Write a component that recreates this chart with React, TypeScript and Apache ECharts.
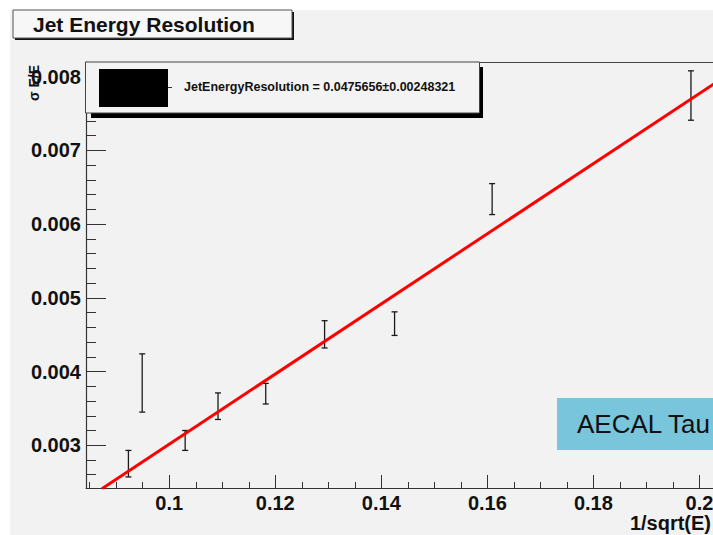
import React, { useEffect, useRef } from "react";
import * as echarts from "echarts";

// ---- data ----
const pointX = [0.0923, 0.0949, 0.103, 0.1092, 0.1182, 0.1293, 0.1425, 0.1609, 0.1984];
const errLow = [0.00257, 0.00345, 0.00293, 0.00335, 0.00356, 0.00432, 0.00449, 0.00613, 0.00741];
const errHigh = [0.00293, 0.00424, 0.0032, 0.00371, 0.00384, 0.00469, 0.00481, 0.00655, 0.00808];

const fitX = [0.0873, 0.2035];
const fitY = [0.00241, 0.00794];

const xMajorTicks = [0.1, 0.12, 0.14, 0.16, 0.18, 0.2];
const xMinorTicks = [
  0.085, 0.09, 0.095, 0.105, 0.11, 0.115, 0.125, 0.13, 0.135, 0.145, 0.15, 0.155,
  0.165, 0.17, 0.175, 0.185, 0.19, 0.195,
];
const yMajorTicks = [0.003, 0.004, 0.005, 0.006, 0.007, 0.008];
const yMinorTicks = [
  0.0026, 0.0028, 0.0032, 0.0034, 0.0036, 0.0038, 0.0042, 0.0044, 0.0046, 0.0048,
  0.0052, 0.0054, 0.0056, 0.0058, 0.0062, 0.0064, 0.0066, 0.0068, 0.0072, 0.0074,
  0.0076, 0.0078,
];

const xMin = 0.0843;
const xMax = 0.2035;
const yMin = 0.00242;
const yMax = 0.0082;

const titleText = "Jet Energy Resolution";
const fitLabel = "JetEnergyResolution = 0.0475656\u00b10.00248321";
const xAxisTitle = "1/sqrt(E)";
const yAxisTitle = "\u03c3 E/E";
const noteText = "AECAL Tau";

const FONT = '"Liberation Sans", Arial, Helvetica, sans-serif';

export default function App() {
  const ref = useRef<HTMLDivElement>(null);

  useEffect(() => {
    if (!ref.current) return;
    const chart = echarts.init(ref.current, undefined, { renderer: "svg" });

    const axisColor = "#333";
    const tickStyle = { color: axisColor, width: 1 };

    const option: any = {
      animation: false,
      backgroundColor: "transparent",
      grid: { left: 86, top: 62, right: 22, bottom: 47 },
      xAxis: [
        {
          type: "value",
          min: xMin,
          max: xMax,
          position: "bottom",
          splitLine: { show: false },
          axisLine: { show: true, lineStyle: { color: axisColor, width: 1.2 } },
          axisTick: { show: true, inside: true, length: 13, customValues: xMajorTicks, lineStyle: tickStyle },
          axisLabel: {
            customValues: xMajorTicks,
            margin: 5,
            fontFamily: FONT,
            fontWeight: "bold",
            fontSize: 20,
            color: "#111",
            formatter: (v: number) => String(+v.toFixed(3)),
          },
        },
        {
          type: "value",
          min: xMin,
          max: xMax,
          position: "bottom",
          offset: 0,
          splitLine: { show: false },
          axisLine: { show: false },
          axisTick: { show: true, inside: true, length: 6, customValues: xMinorTicks, lineStyle: tickStyle },
          axisLabel: { show: false },
        },
        {
          type: "value",
          min: xMin,
          max: xMax,
          position: "top",
          splitLine: { show: false },
          axisLine: { show: true, lineStyle: { color: "#444", width: 1.2 } },
          axisTick: { show: false },
          axisLabel: { show: false },
        },
      ],
      yAxis: [
        {
          type: "value",
          min: yMin,
          max: yMax,
          position: "left",
          splitLine: { show: false },
          axisLine: { show: true, lineStyle: { color: axisColor, width: 1.2 } },
          axisTick: { show: true, inside: true, length: 20, customValues: yMajorTicks, lineStyle: tickStyle },
          axisLabel: {
            customValues: yMajorTicks,
            margin: 5,
            fontFamily: FONT,
            fontWeight: "bold",
            fontSize: 20,
            color: "#111",
            formatter: (v: number) => v.toFixed(3),
          },
        },
        {
          type: "value",
          min: yMin,
          max: yMax,
          position: "left",
          offset: 0,
          splitLine: { show: false },
          axisLine: { show: false },
          axisTick: { show: true, inside: true, length: 10, customValues: yMinorTicks, lineStyle: tickStyle },
          axisLabel: { show: false },
        },
      ],
      series: [
        {
          type: "custom",
          xAxisIndex: 0,
          yAxisIndex: 0,
          encode: { x: 0, y: [1, 2] },
          data: pointX.map((x, i) => [x, errLow[i], errHigh[i]]),
          renderItem: (_params: any, api: any) => {
            const x = api.value(0);
            const lo = api.value(1);
            const hi = api.value(2);
            const top = api.coord([x, hi]);
            const bot = api.coord([x, lo]);
            const c = 3;
            const style = { stroke: "#1a1a1a", lineWidth: 1.3 };
            return {
              type: "group",
              children: [
                { type: "line", shape: { x1: top[0], y1: top[1], x2: bot[0], y2: bot[1] }, style },
                { type: "line", shape: { x1: top[0] - c, y1: top[1], x2: top[0] + c, y2: top[1] }, style },
                { type: "line", shape: { x1: bot[0] - c, y1: bot[1], x2: bot[0] + c, y2: bot[1] }, style },
              ],
            };
          },
          z: 3,
        },
        {
          type: "line",
          xAxisIndex: 0,
          yAxisIndex: 0,
          data: fitX.map((x, i) => [x, fitY[i]]),
          showSymbol: false,
          symbol: "none",
          clip: true,
          lineStyle: { color: "#ff0000", width: 3 },
          z: 4,
        },
      ],
      graphic: [
        // title box
        { type: "rect", shape: { x: 15, y: 12, width: 279, height: 28 }, style: { fill: "#111" }, z: 10 },
        {
          type: "rect",
          shape: { x: 13, y: 10, width: 279, height: 28 },
          style: { fill: "#f7f7f7", stroke: "#555", lineWidth: 1 },
          z: 11,
        },
        {
          type: "text",
          x: 33,
          y: 24,
          style: {
            text: titleText,
            font: `bold 21px ${FONT}`,
            fill: "#111",
            verticalAlign: "middle",
          },
          z: 12,
        },
        // fit legend box
        { type: "rect", shape: { x: 91, y: 113, width: 392, height: 5 }, style: { fill: "#000" }, z: 10 },
        { type: "rect", shape: { x: 479, y: 67, width: 4, height: 51 }, style: { fill: "#000" }, z: 10 },
        {
          type: "rect",
          shape: { x: 85.5, y: 62, width: 394, height: 51 },
          style: { fill: "#f3f3f3", stroke: "#444", lineWidth: 1 },
          z: 11,
        },
        { type: "rect", shape: { x: 99, y: 69, width: 69, height: 38 }, style: { fill: "#000" }, z: 12 },
        { type: "line", shape: { x1: 168, y1: 87.5, x2: 172, y2: 87.5 }, style: { stroke: "#333", lineWidth: 1 }, z: 12 },
        {
          type: "text",
          x: 184,
          y: 87,
          style: {
            text: fitLabel,
            font: `bold 12.5px ${FONT}`,
            fill: "#111",
            verticalAlign: "middle",
          },
          z: 12,
        },
        // y axis title
        {
          type: "text",
          x: 34,
          y: 83,
          rotation: Math.PI / 2,
          style: {
            text: yAxisTitle,
            font: `bold 14px ${FONT}`,
            fill: "#111",
            align: "center",
            verticalAlign: "middle",
          },
          z: 12,
        },
        // x axis title
        {
          type: "text",
          x: 711,
          y: 523,
          style: {
            text: xAxisTitle,
            font: `bold 20px ${FONT}`,
            fill: "#111",
            align: "right",
            verticalAlign: "middle",
          },
          z: 12,
        },
        // note box
        { type: "rect", shape: { x: 557, y: 398, width: 200, height: 52 }, style: { fill: "#79c5dc" }, z: 10 },
        {
          type: "text",
          x: 577,
          y: 424,
          style: {
            text: noteText,
            font: `26px ${FONT}`,
            fill: "#111",
            verticalAlign: "middle",
          },
          z: 11,
        },
      ],
    };

    chart.setOption(option);
    return () => chart.dispose();
  }, []);

  return (
    <div
      style={{
        position: "fixed",
        left: 0,
        top: 0,
        width: 713,
        height: 535,
        overflow: "hidden",
        background: "#ffffff",
      }}
    >
      <div
        style={{
          position: "absolute",
          left: 10,
          top: 10,
          width: 730,
          height: 525,
          background: "#f2f2f2",
        }}
      />
      <div ref={ref} style={{ position: "absolute", left: 0, top: 0, width: 740, height: 535 }} />
    </div>
  );
}
